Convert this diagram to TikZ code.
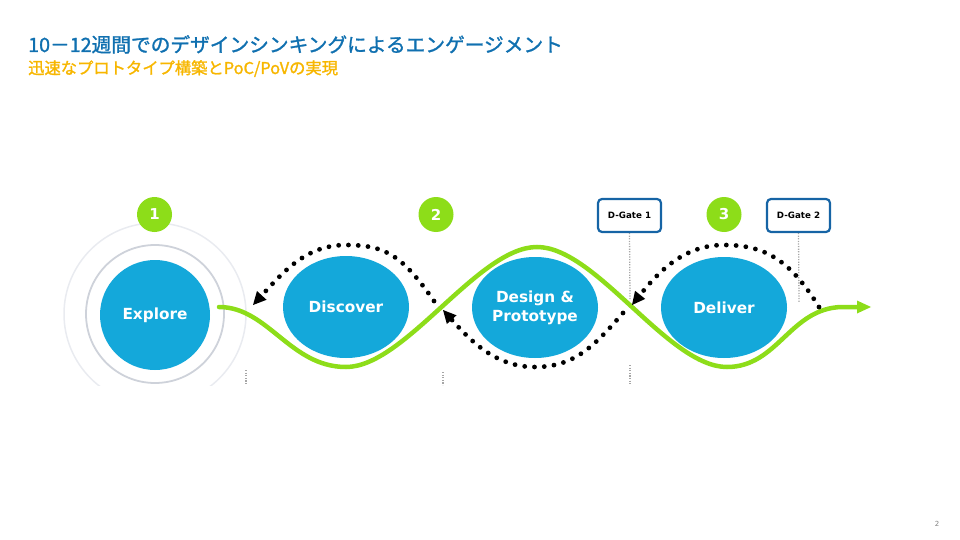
\documentclass[tikz,border=0pt]{standalone}
\usepackage{fontspec}
\usetikzlibrary{shapes.geometric,arrows.meta}
\newfontfamily\jpfont{Noto Sans CJK JP}[FakeBold=1.4]
\newfontfamily\vdfont{DejaVu Sans}
\definecolor{stageblue}{RGB}{20,168,218}
\definecolor{limegreen}{RGB}{141,221,25}
\definecolor{titleblue}{RGB}{16,112,176}
\definecolor{subyellow}{RGB}{247,182,0}
\definecolor{gateblue}{RGB}{22,100,165}
\definecolor{ringin}{RGB}{206,210,218}
\definecolor{ringout}{RGB}{233,235,240}
\tikzset{
  stage/.style={ellipse, fill=stageblue, text=white, inner sep=0pt, align=center,
    font=\vdfont\bfseries\fontsize{15.3}{19}\selectfont},
  badge/.style={circle, fill=limegreen, text=white, minimum size=35pt, inner sep=0pt,
    font=\vdfont\bfseries\fontsize{15}{18}\selectfont},
  gate/.style={draw=gateblue, line width=2.2pt, rounded corners=4pt, fill=white,
    minimum width=63pt, minimum height=33pt, inner sep=0pt,
    font=\vdfont\bfseries\fontsize{8.7}{10}\selectfont},
  wave/.style={draw=limegreen, line width=4.5pt, line cap=round,
    -{Triangle[length=14pt,width=13pt,line width=0pt]}},
  loopdots/.style={draw=black, line width=4.8pt, line cap=round, dash pattern=on 0pt off 9.8pt,
    -{Triangle[length=13pt,width=13pt,line width=0pt]}},
  gateline/.style={draw=gray!70, line width=1.3pt, dash pattern=on 1.2pt off 1.4pt},
}
\begin{document}
\begin{tikzpicture}[x=1pt,y=-1pt]
\useasboundingbox (0,0) rectangle (960,540);
% titles
\node[anchor=base west, inner sep=0pt, text=titleblue, font=\jpfont\fontsize{19.7}{22}\selectfont] (title) at (28,52) {10－12週間でのデザインシンキングによるエンゲージメント};
\node[anchor=base west, inner sep=0pt, text=subyellow, font=\jpfont\fontsize{16.3}{18}\selectfont] (subtitle) at (28,74) {迅速なプロトタイプ構築とPoC/PoVの実現};
% rings
\begin{scope}
\clip (0,0) rectangle (960,385);
\draw[ringout, line width=1.5pt] (155,314) circle (91);
\draw[ringin, line width=1.8pt] (155,314) circle (69);
\end{scope}
% stages
\node[stage, circle, minimum size=110pt] (explore) at (155,315) {Explore};
\node[stage, minimum width=126pt, minimum height=102pt] (discover) at (346,307) {Discover};
\node[stage, minimum width=126pt, minimum height=101pt] (design) at (535,307.5) {Design \&\\Prototype};
\node[stage, minimum width=126pt, minimum height=101pt] (deliver) at (724,307.5) {Deliver};
% badges
\node[badge] (b1) at (154.5,214.5) {1};
\node[badge] (b2) at (436,214.5) {2};
\node[badge] (b3) at (724,214.5) {3};
% gates
\coordinate (g1end) at (630,300);
\coordinate (g2end) at (799,303);
\draw[gateline] (629.5,233) -- (g1end);
\draw[gateline] (798.5,233) -- (g2end);
\node[gate] (gate1) at (629.5,215.5) {D-Gate 1};
\node[gate] (gate2) at (798.5,215.5) {D-Gate 2};
% bottom ticks
\coordinate (t1a) at (246,370); \coordinate (t1b) at (246,385);
\coordinate (t2a) at (443,372); \coordinate (t2b) at (443,385);
\coordinate (t3a) at (630,365); \coordinate (t3b) at (630,385);
\draw[gateline] (t1a) -- (t1b);
\draw[gateline] (t2a) -- (t2b);
\draw[gateline] (t3a) -- (t3b);
% green wave
\coordinate (wstart) at (219,307);
\coordinate (wend) at (871,307);
\draw[wave] (wstart) .. controls (268,307) and (290,367) .. (346,367)
  .. controls (405,367) and (478,247) .. (537,247)
  .. controls (596,247) and (668,367) .. (727,367)
  .. controls (778,367) and (790,308) .. (842,307) -- (wend);
% dotted loops
\coordinate (d1s) at (434,301); \coordinate (d1e) at (253,305);
\coordinate (d2s) at (623,313); \coordinate (d2e) at (443,310);
\coordinate (d3s) at (819,307); \coordinate (d3e) at (632,305);
\draw[loopdots] (d1s) .. controls (402,255) and (385,245) .. (346,245)
  .. controls (307,245) and (285,270) .. (d1e);
\draw[loopdots] (d2s) .. controls (595,345) and (575,367) .. (535,367)
  .. controls (495,367) and (470,340) .. (d2e);
\draw[loopdots] (d3s) .. controls (790,260) and (765,245) .. (724,245)
  .. controls (685,245) and (660,270) .. (d3e);
% page number
\node[text=gray, font=\vdfont\fontsize{7}{8}\selectfont, inner sep=0pt] (pg) at (937,524) {2};
\end{tikzpicture}
\end{document}
